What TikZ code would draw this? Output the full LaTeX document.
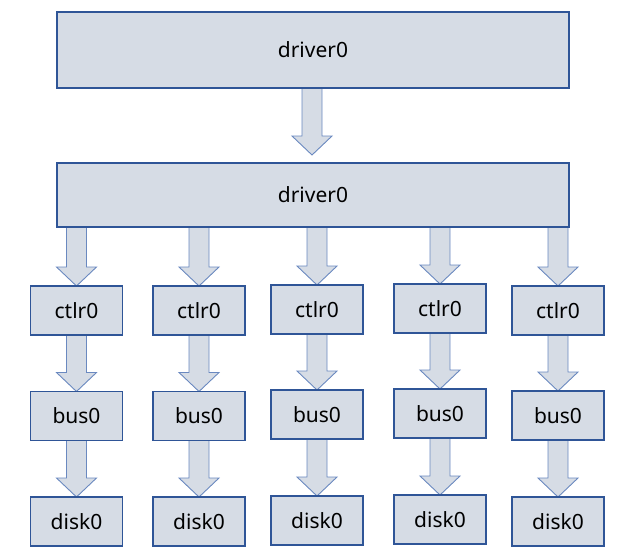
\documentclass[tikz,border=0pt]{standalone}
\usepackage{fontspec}
\setmainfont{Noto Sans}
\usetikzlibrary{calc,backgrounds}
\definecolor{boxfill}{HTML}{D6DCE5}
\definecolor{boxline}{HTML}{2F5597}
\definecolor{arrline}{HTML}{6A89C0}
\tikzset{
  box/.style={draw=boxline, fill=boxfill, line width=1.1pt, inner sep=0pt, outer sep=0pt,
    minimum width=92pt, minimum height=49pt, font=\fontsize{21}{25}\selectfont},
  bigbox/.style={box, minimum width=512pt},
  blkarrow/.style={draw=arrline, fill=boxfill, line width=0.9pt, line join=miter},
}
\newcommand\blk[2]{%
  \draw[blkarrow] let \p1=(#1.south), \p2=(#2.north) in
    (\x2-10pt,\y1) -- (\x2-10pt,\y2+19pt) -- (\x2-20pt,\y2+19pt) -- (\x2,\y2)
    -- (\x2+20pt,\y2+19pt) -- (\x2+10pt,\y2+19pt) -- (\x2+10pt,\y1) -- cycle;}
\begin{document}
\begin{tikzpicture}[x=1pt,y=-1pt]
\useasboundingbox (0,0) rectangle (637,557);
\node[bigbox, minimum height=76pt] (d1) at (313,50) {driver0};
\node[bigbox, minimum height=64pt] (d2) at (313,195) {driver0};
% column boxes
\foreach \i/\cx/\yc/\yb/\yd in {1/76.5/310.5/416/521.5, 2/199/310.5/416/521.5, 3/317/309.5/414.5/520.5, 4/440/308.5/413.5/519.5, 5/558/310.5/415.5/521.5}{
  \node[box] (c\i) at (\cx,\yc) {ctlr0};
  \node[box] (b\i) at (\cx,\yb) {bus0};
  \node[box] (k\i) at (\cx,\yd) {disk0};
}
\coordinate (t1) at (312,155);
\begin{scope}[on background layer]
  \blk{d1}{t1}
  \foreach \i in {1,...,5}{
    \blk{d2}{c\i}
    \blk{c\i}{b\i}
    \blk{b\i}{k\i}
  }
\end{scope}
\end{tikzpicture}
\end{document}
